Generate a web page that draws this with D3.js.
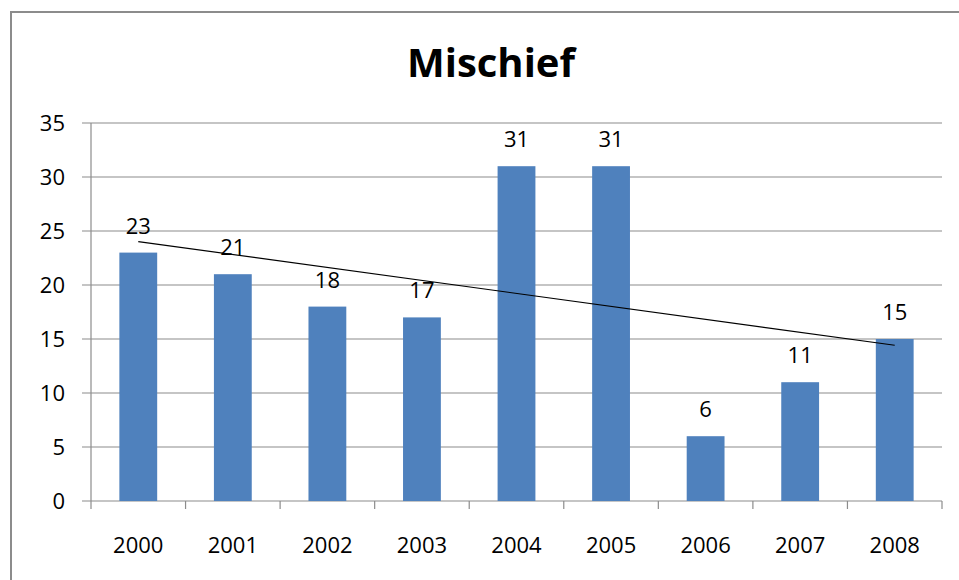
<!DOCTYPE html>
<html>
<head>
<meta charset="utf-8">
<script src="https://cdn.jsdelivr.net/npm/d3@7"></script>
<style>
  body { margin: 0; background: #fff; }
  text { font-family: "Open Sans", sans-serif; fill: #000; }
</style>
</head>
<body>
<svg id="chart"></svg>
<script>
const years = ['2000', '2001', '2002', '2003', '2004', '2005', '2006', '2007', '2008'];
const counts = [23, 21, 18, 17, 31, 31, 6, 11, 15];
const yTicks = [0, 5, 10, 15, 20, 25, 30, 35];
const title = 'Mischief';

const width = 959;
const height = 580;
const plotLeft = 91;
const plotRight = 942;
const plotTop = 123;
const plotBottom = 501;
const labelSize = 22;

const svg = d3.select('#chart')
  .attr('width', width)
  .attr('height', height);

// outer frame (right/bottom edges fall outside the picture)
svg.append('rect')
  .attr('x', 11)
  .attr('y', 12)
  .attr('width', 970)
  .attr('height', 600)
  .attr('fill', 'none')
  .attr('stroke', '#8c8c8c')
  .attr('stroke-width', 2);

svg.append('text')
  .attr('x', 491)
  .attr('y', 77)
  .attr('text-anchor', 'middle')
  .attr('font-size', 40)
  .attr('font-weight', 'bold')
  .text(title);

const x = d3.scaleBand()
  .domain(years)
  .range([plotLeft, plotRight])
  .paddingInner(0.6)
  .paddingOuter(0.3);

const y = d3.scaleLinear()
  .domain([0, 35])
  .range([plotBottom, plotTop]);

// gridlines + y ticks
svg.append('g')
  .selectAll('line')
  .data(yTicks)
  .enter().append('line')
  .attr('x1', plotLeft - 9)
  .attr('x2', plotRight)
  .attr('y1', d => y(d))
  .attr('y2', d => y(d))
  .attr('stroke', '#8c8c8c')
  .attr('stroke-width', 1.2);

svg.append('g')
  .selectAll('text')
  .data(yTicks)
  .enter().append('text')
  .attr('x', 65)
  .attr('y', d => y(d))
  .attr('dy', '0.36em')
  .attr('text-anchor', 'end')
  .attr('font-size', labelSize)
  .attr('fill', '#222')
  .text(d => d);

// y axis line
svg.append('line')
  .attr('x1', plotLeft).attr('x2', plotLeft)
  .attr('y1', plotTop).attr('y2', plotBottom)
  .attr('stroke', '#8c8c8c')
  .attr('stroke-width', 1.2);

// x ticks at band boundaries
const step = x.step();
const boundaries = d3.range(years.length + 1).map(i => plotLeft + i * step);
svg.append('g')
  .selectAll('line')
  .data(boundaries)
  .enter().append('line')
  .attr('x1', d => d).attr('x2', d => d)
  .attr('y1', plotBottom).attr('y2', plotBottom + 8)
  .attr('stroke', '#8c8c8c')
  .attr('stroke-width', 1.2);

svg.append('g')
  .selectAll('rect')
  .data(counts)
  .enter().append('rect')
  .attr('x', (d, i) => x(years[i]))
  .attr('y', d => y(d))
  .attr('width', x.bandwidth())
  .attr('height', d => y(0) - y(d))
  .attr('fill', '#4f81bd');

svg.append('g')
  .selectAll('text')
  .data(counts)
  .enter().append('text')
  .attr('x', (d, i) => x(years[i]) + x.bandwidth() / 2)
  .attr('y', d => y(d) - 19)
  .attr('text-anchor', 'middle')
  .attr('font-size', labelSize)
  .attr('fill', '#222')
  .text(d => d);

svg.append('g')
  .selectAll('text')
  .data(years)
  .enter().append('text')
  .attr('x', d => x(d) + x.bandwidth() / 2)
  .attr('y', 553)
  .attr('text-anchor', 'middle')
  .attr('font-size', labelSize)
  .attr('fill', '#222')
  .text(d => d);

// linear trendline (least squares over index)
const n = counts.length;
const idx = d3.range(n);
const mx = d3.mean(idx);
const my = d3.mean(counts);
const slope = d3.sum(idx, i => (i - mx) * (counts[i] - my)) / d3.sum(idx, i => (i - mx) ** 2);
const intercept = my - slope * mx;
const cx = i => x(years[i]) + x.bandwidth() / 2;

svg.append('line')
  .attr('x1', cx(0))
  .attr('y1', y(intercept))
  .attr('x2', cx(n - 1))
  .attr('y2', y(intercept + slope * (n - 1)))
  .attr('stroke', '#000')
  .attr('stroke-width', 1.2);
</script>
</body>
</html>
